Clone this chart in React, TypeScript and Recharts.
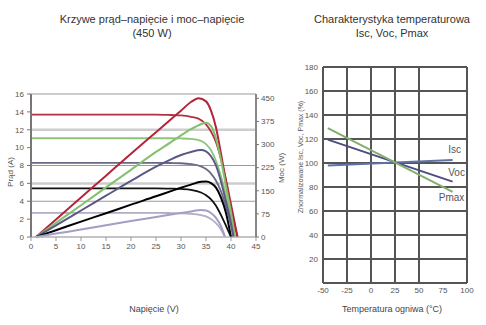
import React from 'react';
import {
  LineChart,
  Line,
  XAxis,
  YAxis,
  CartesianGrid,
  ReferenceLine,
  LabelList,
} from 'recharts';

// I-V and P-V curves (left chart), one voltage grid per irradiance level
const redVolts = [0, 1, 5, 10, 15, 20, 25, 28, 30, 32, 33.5, 35, 36, 37, 38, 39, 40, 41, 41.3];
const redAmps = [13.7, 13.7, 13.7, 13.7, 13.7, 13.7, 13.7, 13.65, 13.6, 13.45, 13.25, 12.6, 11.8, 10.6, 8.7, 6.4, 3.7, 0.9, 0];
const redWatts = [null, 0, 57, 128, 199, 270, 340, 382, 410, 438, 450, 440, 410, 355, 270, 180, 95, 20, 0];

const greenVolts = [0, 1, 5, 10, 15, 20, 25, 28, 30, 32, 34, 35, 36, 37, 38, 39, 40, 40.8];
const greenAmps = [11.05, 11.05, 11.05, 11.05, 11.05, 11.05, 11.05, 11.05, 11.03, 10.98, 10.75, 10.4, 9.7, 8.5, 6.8, 4.7, 2.3, 0];
const greenWatts = [null, 0, 46, 103, 161, 218, 276, 308, 330, 350, 366, 371, 360, 320, 250, 165, 80, 0];

const purpleVolts = [0, 1, 5, 10, 15, 20, 25, 28, 30, 32, 34, 35, 36, 37, 38, 39, 40, 40.5];
const purpleAmps = [8.3, 8.3, 8.3, 8.3, 8.3, 8.3, 8.3, 8.28, 8.25, 8.15, 7.9, 7.6, 7.1, 6.3, 5.1, 3.4, 1.3, 0];
const purpleWatts = [null, 0, 38, 86, 134, 182, 228, 252, 266, 276, 282, 278, 262, 232, 180, 115, 45, 0];

const blackVolts = [0, 1, 5, 10, 15, 20, 25, 28, 30, 32, 34, 35, 36, 37, 38, 39, 40];
const blackAmps = [5.45, 5.45, 5.45, 5.45, 5.45, 5.45, 5.45, 5.42, 5.38, 5.28, 4.98, 4.68, 4.22, 3.5, 2.45, 1.25, 0];
const blackWatts = [null, 0, 22, 50, 77, 105, 132, 149, 160, 170, 179, 180, 175, 160, 128, 78, 0];

const lightVolts = [0, 1, 5, 10, 15, 20, 25, 28, 30, 32, 34, 35, 36, 37, 38, 38.8];
const lightAmps = [2.7, 2.7, 2.7, 2.7, 2.7, 2.7, 2.7, 2.68, 2.66, 2.6, 2.45, 2.3, 2.0, 1.55, 0.85, 0];
const lightWatts = [null, 0, 11, 24, 38, 52, 65, 73, 78, 83, 88, 86, 78, 62, 35, 0];

const voltTicks = [0, 5, 10, 15, 20, 25, 30, 35, 40, 45];
const ampTicks = [0, 2, 4, 6, 8, 10, 12, 14, 16];
const wattTicks = [0, 75, 150, 225, 300, 375, 450];
const lightGridAmps = [6, 12];

// temperature characteristic (right chart)
const tempPoints = [-45, 85];
const iscPct = [98, 102.5];
const vocPct = [119.5, 84.5];
const pmaxPct = [129, 76];
const tempTicks = [-50, -25, 0, 25, 50, 75, 100];
const pctTicks = [0, 20, 40, 60, 80, 100, 120, 140, 160, 180];

const rows = (xs: number[], ys: (number | null)[]) => xs.map((x, i) => ({ x, y: ys[i] }));

const curves = [
  { volts: redVolts, amps: redAmps, watts: redWatts, ivColor: '#b3303f', pvColor: '#b5243a' },
  { volts: greenVolts, amps: greenAmps, watts: greenWatts, ivColor: '#8fc47c', pvColor: '#84c06e' },
  { volts: purpleVolts, amps: purpleAmps, watts: purpleWatts, ivColor: '#6a6888', pvColor: '#5a5886' },
  { volts: blackVolts, amps: blackAmps, watts: blackWatts, ivColor: '#111111', pvColor: '#000000' },
  { volts: lightVolts, amps: lightAmps, watts: lightWatts, ivColor: '#b0aec4', pvColor: '#a29ec6' },
];

const font = '"Liberation Sans", Arial, sans-serif';
const tickStyle = { fontSize: 8, fill: '#555', fontFamily: font };

const endLabel = (text: string, dx: number, dy: number) => (props: any) => {
  if (props.index !== tempPoints.length - 1) return null;
  return (
    <text
      x={props.x + dx}
      y={props.y + dy}
      textAnchor="middle"
      dominantBaseline="middle"
      fontSize={10}
      fill="#555"
      fontFamily={font}
    >
      {text}
    </text>
  );
};

const tempRows = (vals: number[]) => rows(tempPoints, vals);

const label = (style: React.CSSProperties, text: string) => (
  <div style={{ position: 'absolute', fontFamily: font, color: '#333', whiteSpace: 'nowrap', ...style }}>
    {text}
  </div>
);

export default function App() {
  return (
    <div style={{ position: 'absolute', left: 0, top: 0, width: 486, height: 325, background: '#fff', overflow: 'hidden' }}>
      <div style={{ position: 'absolute', left: 0, top: 0 }}>
        <LineChart width={290} height={325} margin={{ top: 94, right: 4, bottom: 68, left: 0 }}>
          <CartesianGrid yAxisId="I" vertical={false} stroke="#9a9a9a" strokeWidth={1} />
          <XAxis
            type="number"
            dataKey="x"
            domain={[0, 45]}
            ticks={voltTicks}
            allowDuplicatedCategory={false}
            height={20}
            tick={tickStyle}
            tickSize={4}
            axisLine={{ stroke: '#bbb' }}
            tickLine={{ stroke: '#999' }}
          />
          <YAxis
            yAxisId="I"
            domain={[0, 16]}
            ticks={ampTicks}
            width={31}
            tick={tickStyle}
            tickSize={4}
            tickMargin={3}
            axisLine={{ stroke: '#777', strokeWidth: 2 }}
            tickLine={{ stroke: '#777' }}
          />
          <YAxis
            yAxisId="P"
            orientation="right"
            domain={[0, 464]}
            ticks={wattTicks}
            width={30}
            tick={tickStyle}
            tickSize={3}
            tickMargin={2}
            axisLine={{ stroke: '#888', strokeWidth: 2 }}
            tickLine={{ stroke: '#777' }}
          />
          {lightGridAmps.map((v) => (
            <ReferenceLine key={v} yAxisId="I" y={v} stroke="#cdcdcd" strokeWidth={2.5} />
          ))}
          {curves.map((c, i) => (
            <Line
              key={'iv' + i}
              yAxisId="I"
              data={rows(c.volts, c.amps)}
              dataKey="y"
              type="monotone"
              stroke={c.ivColor}
              strokeWidth={1.8}
              dot={false}
              isAnimationActive={false}
            />
          ))}
          {curves.map((c, i) => (
            <Line
              key={'pv' + i}
              yAxisId="P"
              data={rows(c.volts, c.watts)}
              dataKey="y"
              type="monotone"
              stroke={c.pvColor}
              strokeWidth={2}
              dot={false}
              isAnimationActive={false}
            />
          ))}
        </LineChart>
      </div>

      <div style={{ position: 'absolute', left: 290, top: 0 }}>
        <LineChart width={196} height={325} margin={{ top: 67, right: 19, bottom: 22, left: 0 }}>
          <CartesianGrid
            stroke="#555"
            strokeWidth={2}
            horizontalValues={pctTicks}
            verticalValues={tempTicks}
          />
          <XAxis
            type="number"
            dataKey="x"
            domain={[-50, 100]}
            ticks={tempTicks}
            allowDuplicatedCategory={false}
            height={20}
            tick={tickStyle}
            tickSize={2}
            tickLine={false}
            axisLine={{ stroke: '#555', strokeWidth: 2 }}
          />
          <YAxis
            domain={[0, 180]}
            ticks={pctTicks.slice(1)}
            width={33}
            tick={tickStyle}
            tickSize={3}
            tickLine={false}
            axisLine={{ stroke: '#555', strokeWidth: 2 }}
          />
          <Line data={tempRows(iscPct)} dataKey="y" stroke="#5f72a8" strokeWidth={2} dot={false} isAnimationActive={false}>
            <LabelList content={endLabel('Isc', 2, -10)} />
          </Line>
          <Line data={tempRows(vocPct)} dataKey="y" stroke="#4d4c82" strokeWidth={2} dot={false} isAnimationActive={false}>
            <LabelList content={endLabel('Voc', 4, -8)} />
          </Line>
          <Line data={tempRows(pmaxPct)} dataKey="y" stroke="#80b070" strokeWidth={2} dot={false} isAnimationActive={false}>
            <LabelList content={endLabel('Pmax', -1, 7)} />
          </Line>
        </LineChart>
      </div>

      {label({ left: 0, width: 304, top: 12, textAlign: 'center', fontSize: 11, lineHeight: '14px' }, 'Krzywe prąd–napięcie i moc–napięcie')}
      {label({ left: 0, width: 304, top: 26, textAlign: 'center', fontSize: 11, lineHeight: '14px' }, '(450 W)')}
      {label({ left: 292, width: 200, top: 12, textAlign: 'center', fontSize: 11, lineHeight: '14px' }, 'Charakterystyka temperaturowa')}
      {label({ left: 292, width: 200, top: 26, textAlign: 'center', fontSize: 11, lineHeight: '14px' }, 'Isc, Voc, Pmax')}
      {label({ left: 94, width: 120, top: 304, textAlign: 'center', fontSize: 9, color: '#444' }, 'Napięcie (V)')}
      {label({ left: 322, width: 140, top: 304, textAlign: 'center', fontSize: 9, color: '#444' }, 'Temperatura ogniwa (°C)')}
      {label({ left: 10, top: 172, fontSize: 8, color: '#555', transform: 'translate(-50%, -50%) rotate(-90deg)' }, 'Prąd (A)')}
      {label({ left: 281, top: 168, fontSize: 8, color: '#555', transform: 'translate(-50%, -50%) rotate(-90deg)' }, 'Moc (W)')}
      {label({ left: 300, top: 157, fontSize: 7, color: '#555', transform: 'translate(-50%, -50%) rotate(-90deg)' }, 'Znormalizowane Isc, Voc, Pmax (%)')}
    </div>
  );
}
